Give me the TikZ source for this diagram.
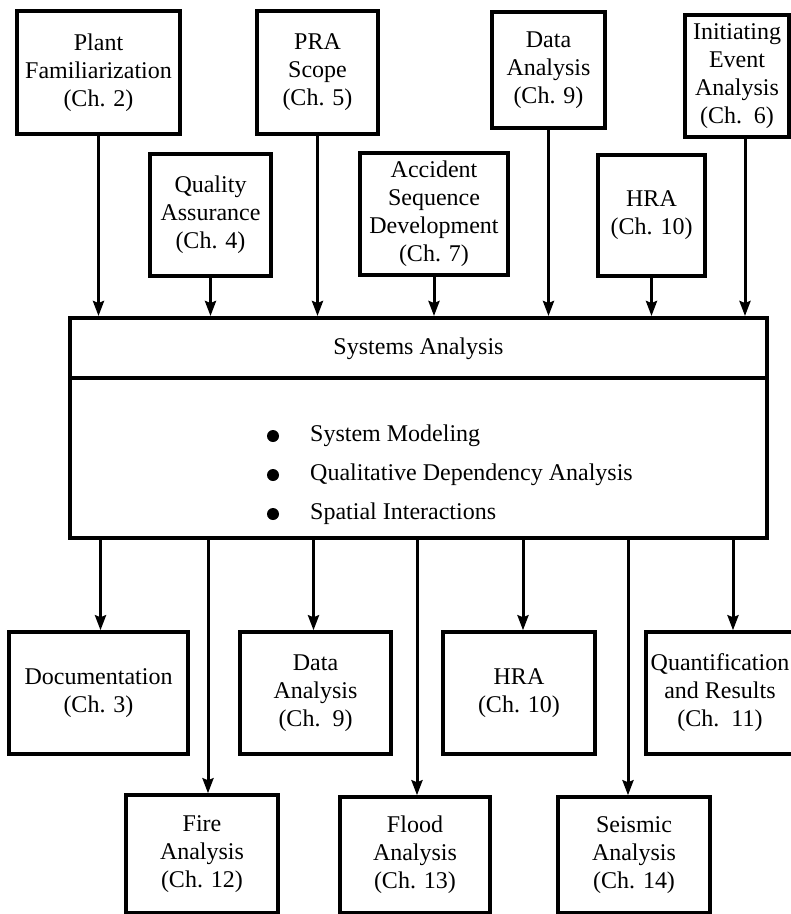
\documentclass[tikz,border=0pt]{standalone}
\usepackage{fontspec}
\setmainfont{Liberation Serif}
\usetikzlibrary{arrows.meta,calc}
\begin{document}
\begin{tikzpicture}[x=1pt,y=-1pt,
  txt/.style={font=\fontsize{24}{28}\selectfont},
  box/.style={txt,draw,line width=3.5pt,align=center,inner sep=0pt},
  arr/.style={line width=3pt,-{Stealth[length=15pt,width=11pt,inset=2pt]}},
  item/.style={txt,anchor=west,inner sep=0pt},
  bullet/.style={circle,fill,inner sep=0pt,minimum size=12pt}]
\useasboundingbox (0,0) rectangle (791,914);
\clip (0,0) rectangle (791,914);

% inputs to the systems analysis
\node[box,minimum width=163pt,minimum height=123pt] (plant) at (98.5,72.5) {Plant\\Familiarization\\(Ch. 2)};
\node[box,minimum width=121pt,minimum height=123pt] (pra) at (317.5,72.5) {PRA\\Scope\\(Ch. 5)};
\node[box,minimum width=121pt,minimum height=122pt] (qa) at (210.5,215) {Quality\\Assurance\\(Ch. 4)};
\node[box,minimum width=148pt,minimum height=122pt] (asd) at (434,214) {Accident\\Sequence\\Development\\(Ch. 7)};
\node[box,minimum width=113pt,minimum height=116pt] (datain) at (548.5,70) {Data\\Analysis\\(Ch. 9)};
\node[box,minimum width=107pt,minimum height=121pt] (hrain) at (651.5,215.5) {HRA\\(Ch. 10)};
\node[box,minimum width=104pt,minimum height=122pt] (iea) at (737,76) {Initiating\\Event\\Analysis\\(Ch.~~6)};

% central systems analysis box
\node[draw,line width=4pt,minimum width=697pt,minimum height=220pt,inner sep=0pt] (sys) at (418.5,428) {};
\draw[line width=4pt] ($(sys.north west)+(0,62)$) -- ($(sys.north east)+(0,62)$);
\node[txt,inner sep=0pt] (systitle) at (418.5,349) {Systems Analysis};
\node[bullet] (b1) at (273,436) {};
\node[bullet] (b2) at (273,475) {};
\node[bullet] (b3) at (273,514) {};
\node[item] (i1) at (310,436) {System Modeling};
\node[item] (i2) at (310,475) {Qualitative Dependency Analysis};
\node[item] (i3) at (310,514) {Spatial Interactions};

% outputs, first row
\node[box,minimum width=179pt,minimum height=122pt] (doc) at (98.5,693) {Documentation\\(Ch. 3)};
\node[box,minimum width=151pt,minimum height=122pt] (dataout) at (315.5,693) {Data\\Analysis\\(Ch.~~9)};
\node[box,minimum width=152pt,minimum height=122pt] (hraout) at (519,693) {HRA\\(Ch. 10)};
\node[box,minimum width=148pt,minimum height=122pt] (quant) at (720,693) {Quantification\\and Results\\(Ch.~~11)};

% outputs, second row
\node[box,minimum width=152pt,minimum height=118pt] (fire) at (202,854) {Fire\\Analysis\\(Ch. 12)};
\node[box,minimum width=150pt,minimum height=116pt] (flood) at (415,855) {Flood\\Analysis\\(Ch. 13)};
\node[box,minimum width=152pt,minimum height=116pt] (seis) at (634,855) {Seismic\\Analysis\\(Ch. 14)};

% arrows into the systems analysis
\draw[arr] (plant.south) -- (plant.south |- sys.north);
\draw[arr] (pra.south) -- (pra.south |- sys.north);
\draw[arr] (qa.south) -- (qa.south |- sys.north);
\draw[arr] (asd.south) -- (asd.south |- sys.north);
\draw[arr] (datain.south) -- (datain.south |- sys.north);
\draw[arr] (hrain.south) -- (hrain.south |- sys.north);
\draw[arr] ($(iea.south)+(8,0)$) -- ($(iea.south |- sys.north)+(8,0)$);

% arrows out of the systems analysis
\draw[arr] ($(doc.north |- sys.south)+(2,0)$) -- ($(doc.north)+(2,0)$);
\draw[arr] ($(fire.north |- sys.south)+(6,0)$) -- ($(fire.north)+(6,0)$);
\draw[arr] ($(dataout.north |- sys.south)+(-2,0)$) -- ($(dataout.north)+(-2,0)$);
\draw[arr] ($(flood.north |- sys.south)+(2,0)$) -- ($(flood.north)+(2,0)$);
\draw[arr] ($(hraout.north |- sys.south)+(4,0)$) -- ($(hraout.north)+(4,0)$);
\draw[arr] ($(seis.north |- sys.south)+(-6,0)$) -- ($(seis.north)+(-6,0)$);
\draw[arr] ($(quant.north |- sys.south)+(13,0)$) -- ($(quant.north)+(13,0)$);
\end{tikzpicture}
\end{document}
